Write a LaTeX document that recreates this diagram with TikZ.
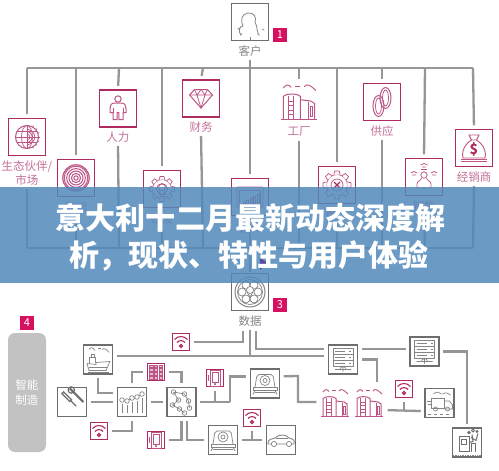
\documentclass[tikz,border=0pt]{standalone}
\usepackage{fontspec}
\setmainfont{Noto Sans CJK SC}
\definecolor{bpink}{HTML}{B02A62}
\definecolor{ipink}{HTML}{BC5586}
\definecolor{tpink}{HTML}{C4709A}
\definecolor{bgray}{HTML}{6E6E6E}
\definecolor{igray}{HTML}{858585}
\definecolor{cgray}{HTML}{969696}
\definecolor{bandc}{HTML}{5289BC}
\definecolor{badgec}{HTML}{D6105F}
\definecolor{tric}{HTML}{5A4CA0}
\tikzset{
 x=1pt,y=-1pt,
 pbox/.style={draw=bpink,line width=1.4pt,minimum size=37pt,inner sep=0pt,fill=white},
 gbox/.style={draw=bgray,line width=1.5pt,minimum size=29pt,inner sep=0pt,fill=white},
 wbox/.style={draw=bpink,line width=1.4pt,minimum size=17.5pt,inner sep=0pt,fill=white},
 bigg/.style={draw=bgray,line width=1.5pt,minimum size=37pt,inner sep=0pt,fill=white},
 freebox/.style={minimum size=30pt,inner sep=0pt},
 conn/.style={draw=cgray,line width=2.3pt},
 gap/.style={shorten >=3.5pt,shorten <=3.5pt},
 gapb/.style={shorten >=3.5pt},
 gapa/.style={shorten <=3.5pt},
 plab/.style={text=tpink,font=\fontsize{11.5}{14}\selectfont,inner sep=0pt,align=center},
 glab/.style={text=igray,font=\fontsize{11.5}{14}\selectfont,inner sep=0pt},
 badge/.style={fill=badgec,text=white,minimum size=14pt,inner sep=0pt,font=\fontsize{11}{12}\selectfont},
 ttl/.style={text=white,font=\fontsize{30}{32}\selectfont\bfseries,inner sep=0pt},
 ip/.style={draw=ipink,line width=.75pt},
 ig/.style={draw=igray,line width=.7pt},
 pics/wifi/.style={code={
  \draw[draw=bpink,line width=1.1pt] (-6.5,-2.5) .. controls (-3,-6.5) and (3,-6.5) .. (6.5,-2.5);
  \draw[draw=bpink,line width=1.1pt] (-4,.5) .. controls (-2,-2) and (2,-2) .. (4,.5);
  \draw[draw=bpink,line width=1.1pt] (0,4) circle[radius=1.5];}},
 pics/gridic/.style={code={
  \foreach \i in {-4.6,0,4.6}{\foreach \j in {-5.8,-2,2,5.8}{\draw[ip,fill=ipink!40] (\i-1.7,\j-1.3) rectangle (\i+1.7,\j+1.3);}}}},
 pics/tablet/.style={code={
  \draw[ip] (-5,-8) rectangle (5,8);\draw[ip] (-3,-5.5) rectangle (3,4.5);\draw[ip] (0,6.2) circle[radius=.7];\draw[ip] (-6.5,-3)--(-6.5,3);}},
 pics/globe/.style={code={
  \draw[ip,line width=1pt] (0,0) circle[radius=11.5];
  \draw[ip] (0,0) ellipse[x radius=5.5,y radius=11.5];
  \draw[ip] (-11.5,0)--(11.5,0) (0,-11.5)--(0,11.5) (-10,-5.5)--(10,-5.5) (-10,5.5)--(10,5.5);
  \foreach \r in {3,5.5,8}{\draw[ip] (0,-\r) .. controls (\r*1.3,-\r*.7) and (\r*1.3,\r*.7) .. (0,\r);}
  \foreach \a in {-60,-40,...,60}{\draw[ip,rotate=\a] (11.5,0)--(13,0);}}},
 pics/target/.style={code={
  \foreach \r in {2.2,4.6,7,9.4,11.8}{\draw[draw=ipink,line width=1pt] (0,0) circle[radius=\r];}
  \draw[draw=ipink,line width=1.2pt] (0,0) circle[radius=13.2];}},
 pics/person/.style={code={
  \draw[ip,line width=1pt] (0,-9.5) circle[radius=3.2];
  \draw[ip,line width=1pt] (-3,-5.5) -- (3,-5.5) .. controls (7,-5.5) and (8,-3) .. (8,0) -- (8,4) -- (5,4) -- (5,11) -- (.8,11) -- (.8,4) -- (-.8,4) -- (-.8,11) -- (-5,11) -- (-5,4) -- (-8,4) -- (-8,0) .. controls (-8,-3) and (-7,-5.5) .. (-3,-5.5);
  \draw[ip] (-5,-1)--(-5,4) (5,-1)--(5,4);}},
 pics/diamond/.style={code={
  \draw[ip,line width=1pt] (-11.5,-3.5) -- (-6.5,-9) -- (6.5,-9) -- (11.5,-3.5) -- (0,9.5) -- cycle;
  \draw[ip] (-11.5,-3.5) -- (11.5,-3.5) (-6.5,-9) -- (-4,-3.5) -- (0,-9) -- (4,-3.5) -- (6.5,-9) (-4,-3.5) -- (0,9.5) -- (4,-3.5);}},
 pics/gear/.style={code={
  \draw[ip] (0,0) circle[radius=9.5];
  \foreach \a in {0,45,...,315}{\draw[ip,rotate=\a,fill=white] (-2.6,-9.4) -- (-2,-12.5) -- (2,-12.5) -- (2.6,-9.4);}
  \draw[ip] (0,0) circle[radius=5.5];}},
 pics/bulb/.style={code={
  \draw[ip] (-3.5,5) -- (3.5,5) (-2.5,7.5) -- (2.5,7.5);\draw[ip] (0,-1.5) circle[radius=3.5];
  \draw[ip] (-3,1) -- (-2.2,5) (3,1) -- (2.2,5);}},
 pics/screen/.style={code={
  \draw[ip,rounded corners=1pt] (-13,-10) rectangle (13,10);
  \draw[ip] (-10.5,-7) rectangle (10.5,8);
  \foreach \h/\x in {2/-6,4/-2.5,6/1,8/4.5,10/8}{\draw[ip] (\x-1,7)rectangle (\x+1,7-\h);}}},
 pics/factory/.style={code={
  \draw[ip] (-14,14) -- (14,14);
  \draw[ip,line width=1pt] (-12,14) -- (-12,-3.5) .. controls (-10,-6) and (-1,-6) .. (1,-3.5) -- (1,14);
  \draw[ip,line width=1pt] (1,-1) -- (9,0) -- (12,2) -- (12,14);
  \draw[ip,line width=1pt] (7,1) -- (7,14);
  \draw[ip] (-8.5,-4)--(-8.5,14) (-4,-4)--(-4,14);
  \foreach \y in {0,3.5,7,10.5}{\draw[ip] (-8.5,\y)--(-4,\y);}
  \draw[ip] (8.5,4) rectangle (10.5,12);
  \draw[ip,line width=.9pt] (-12,-10) .. controls (-10,-13) and (-8,-13) .. (-6,-10.5);
  \draw[ip,line width=.9pt] (-3,-11.5) -- (1,-11.5);
  \draw[ip,line width=.9pt] (4,-11) .. controls (6,-14) and (9,-12) .. (13,-8);}},
 pics/tools/.style={code={
  \draw[draw=bgray,line width=1.3pt,rotate=45] (-1.2,-13) rectangle (1.2,-2);
  \draw[draw=bgray,line width=1.3pt,rotate=45] (0,-2) -- (0,6);
  \draw[draw=bgray,line width=2.2pt,rotate=45] (8,-11)--(8,8);
  \draw[draw=bgray,line width=1.2pt,rotate=45] (8,-9) circle[radius=3.2];}},
 pics/chartic/.style={code={
  \foreach \x/\y in {-10/-2,-5/-1,0/-4,5/-5,10/-8}{\draw[ig] (\x,\y) circle[radius=2.3];\draw[ig] (\x,\y+4)--(\x,11);}
  \draw[ig] (-8,-2)--(-7,-1) (-3,-2)--(-2,-3.5) (2,-4)--(3,-4.5) (7,-6)--(8,-7);}},
 pics/network/.style={code={
  \foreach \x/\y in {-8/-10,3/-8,-3/-2,7/-1,-9/3,-2/7,8/6,3/11}{\draw[ig] (\x,\y) circle[radius=2.3];}
  \draw[ig] (-8,-10)--(3,-8)--(7,-1)--(8,6) (-3,-2)--(-9,3)--(-2,7)--(3,11) (-8,-10)--(-3,-2);}},
 pics/printer/.style={code={
  \draw[ig,rounded corners=2pt] (-10,4) -- (-8,-9) -- (8,-9) -- (10,4);
  \draw[ig] (0,-3) circle[radius=5];\draw[ig] (0,-3) circle[radius=2];
  \draw[ig] (-12,4) rectangle (12,7);\draw[ig] (-10,7) -- (-12,11) (10,7) -- (12,11);\draw[ig] (-10,9) -- (10,9);}},
 pics/server/.style={code={
  \foreach \y in {-11,-5,1}{\draw[ig] (-10,\y) rectangle (10,\y+5.5);\draw[ig] (6,\y+2.7)--(8,\y+2.7);\draw[ig] (-8,\y+2.7)--(2,\y+2.7);}
  \draw[ig] (0,6.5)--(0,12) (-8,10)--(8,10) (-3,9)--(0,6.5)--(3,9);}},
 pics/ship/.style={code={
  \draw[ig] (-11,4) -- (-9,11) -- (8,11) -- (12,2) -- (-2,3) -- (-2,5) -- (-11,4);
  \draw[ig] (-9,4) -- (-9,-2) -- (-3,-2) -- (-3,3) (-7,-2)--(-7,-5)--(-4,-5)--(-4,-2);
  \draw[ig] (-9,8)--(9,8) (-10,12.5)--(11,12.5);
  \draw[ig] (-9,-10) .. controls (-7,-13) and (-5,-12) .. (-3,-9) (0,-11)--(3,-11) (4,-10) .. controls (6,-12) and (9,-10) .. (11,-7);}},
 pics/truck/.style={code={
  \draw[ig] (-8,-5) rectangle (5,5);\draw[ig] (5,-2) -- (10,-2) -- (13,2) -- (13,6) -- (5,6);
  \draw[ig] (-4,6) circle[radius=2];\draw[ig] (8,6) circle[radius=2];
  \draw[ig] (-13,-2)--(-9,-2) (-12,1)--(-9,1);
  \draw[ig,dashed] (-12,11)--(12,11);
  \draw[ig] (-6,-9) .. controls (-3,-12) and (0,-11) .. (2,-9) (3,-9) .. controls (6,-11) and (9,-10) .. (11,-8);}},
 pics/car/.style={code={
  \draw[ig,line width=.9pt] (-13,3) .. controls (-13,-1) and (-9,-1) .. (-6,-2) .. controls (-2,-6) and (5,-6) .. (8,-2) .. controls (12,-1) and (14,0) .. (13,4) -- (-13,4) -- cycle;
  \draw[ig,fill=white] (-7,4) circle[radius=2.6];\draw[ig,fill=white] (8,4) circle[radius=2.6];
  \draw[ig] (-5,-2)--(7,-2);}},
 pics/pump/.style={code={
  \draw[draw=bgray,line width=1pt] (-8,-6) rectangle (2,9);
  \draw[draw=bgray,line width=1pt] (-5.5,-3.5) rectangle (-.5,2);
  \draw[draw=bgray,line width=1pt] (2,0) -- (6,-1) -- (5,-8);
  \draw[draw=bgray,line width=1pt] (4,-5) -- (9,-2) -- (11,-9);
  \draw[draw=bgray,line width=1pt] (4,9) -- (4,1) -- (8,1) -- (8,9);
  \draw[draw=bgray,line width=1pt] (2,-10) circle[radius=1.2] (6,-12) circle[radius=1.5] (10,-11) circle[radius=1];
  \draw[ig,densely dotted] (-14,13)--(14,13);}},
 pics/chain/.style={code={
  \draw[ip,line width=1pt] (3.5,-4) ellipse[x radius=5.5,y radius=10.5];
  \draw[ip] (3.5,-4) ellipse[x radius=3,y radius=8];
  \draw[ip,line width=1pt] (-3.5,4) ellipse[x radius=5.5,y radius=10.5];
  \draw[ip] (-3.5,4) ellipse[x radius=3,y radius=8];}},
 pics/gearx/.style={code={
  \draw[ip] (0,0) circle[radius=10.5];
  \foreach \a in {0,45,...,315}{\draw[ip,rotate=\a,fill=white] (-3,-10.4) -- (-2.2,-14) -- (2.2,-14) -- (3,-10.4);}
  \draw[ip] (0,0) circle[radius=6];
  \draw[draw=bpink,line width=1.2pt] (-3,-3)--(3,3) (3,-3)--(-3,3);}},
 pics/netman/.style={code={
  \draw[ip] (0,-2) circle[radius=3.2];
  \draw[ip] (-7,11) -- (-7,7) .. controls (-7,4) and (-3,4) .. (-2.5,1.5) (2.5,1.5) .. controls (3,4) and (7,4) .. (7,7) -- (7,11) -- (-7,11);
  \draw[ip] (-3.5,-12) .. controls (-1,-14) and (1,-14) .. (3.5,-12) (-2,-10)--(2,-10) (-3,-7.5)--(3,-7.5);
  \draw[ip] (-13,-4) .. controls (-11,-6) and (-9,-6) .. (-7,-4) (-12,-2)--(-8,-2);
  \draw[ip] (13,-4) .. controls (11,-6) and (9,-6) .. (7,-4) (12,-2)--(8,-2);}},
 pics/bag/.style={code={
  \draw[ip,line width=.9pt] (-5,-13) -- (5,-13) -- (2.5,-8) -- (-2.5,-8) -- cycle;
  \draw[ip,line width=.9pt] (-2.5,-8) .. controls (-12,-2) and (-12,7) .. (-11,10) -- (11,10) .. controls (12,7) and (12,-2) .. (2.5,-8);
  \draw[ip] (-13,11) -- (13,11) (-13,13) -- (13,13);
  \node[text=bpink,font=\fontsize{14}{14}\selectfont\bfseries,inner sep=0pt] at (0,1) {\$};}},
 pics/head/.style={code={
  \draw[ig,line width=.8pt] (-9,13) .. controls (-12,10) and (-11,4) .. (-7,4) .. controls (-10,-3) and (-8,-8) .. (-2,-9) .. controls (4,-10) and (7,-4) .. (5,0) .. controls (7,4) and (7,8) .. (8,11) -- (8,13);
  \foreach \a/\r in {-150/12,-125/14,-90/15,-55/14,-30/14}{\draw[ig,rotate=\a] (\r,0) -- (\r+2.5,0);}}},
 pics/dataic/.style={code={
  \draw[ig,line width=1pt] (0,0) circle[radius=15];\draw[ig] (0,0) circle[radius=12.5];
  \foreach \a in {0,60,...,300}{\draw[ig,rotate=\a] (8,0) circle[radius=4];}
  \draw[ig,fill=white] (0,-2) circle[radius=3.5];\draw[ig] (-3,0) -- (0,5) -- (3,0);}}
}
\begin{document}
\begin{tikzpicture}
\useasboundingbox (0,0) rectangle (499,471);
\fill[white] (0,0) rectangle (499,471);

% upper part
\node[bigg] (client) at (250,22) {};
\pic at (client.center) {head};
\node[glab] (lclient) at (250,51) {客户};
\node[badge] (b1) at (280,35) {1};

\coordinate (tl) at (27,68);
\coordinate (tr) at (473,68);
\coordinate (bl) at (27,248);
\coordinate (br) at (473,248);

\node[pbox] (eco) at (27,137) {}; \pic at (eco.center) {globe};
\node[plab] (leco) at (27,173) {生态伙伴/\\市场};
\node[pbox] (mkt) at (76,178) {}; \pic at (mkt.center) {target};
\node[plab] (lmkt) at (76,207) {物流};
\node[pbox] (hr) at (118,108.5) {}; \pic at (hr.center) {person};
\node[plab] (lhr) at (118,137) {人力};
\node[pbox] (rd) at (162,189) {}; \pic at (rd.center) {gear}; \pic at (rd.center) {bulb};
\node[plab] (lrd) at (162,219) {研发};
\node[pbox] (fin) at (201,98.5) {}; \pic at (fin.center) {diamond};
\node[plab] (lfin) at (201,127) {财务};
\node[pbox] (dash) at (250,197) {}; \pic at (dash.center) {screen};
\node[plab] (ldash) at (250,228) {设计};
\node[freebox,minimum size=37pt] (fac) at (299,101) {}; \pic[scale=1.3] at (fac.center) {factory};
\node[plab] (lfac) at (299,132) {工厂};
\node[pbox] (svc) at (337,185) {}; \pic at (svc.center) {gearx};
\node[plab] (lsvc) at (337,214) {维修};
\node[pbox] (sup) at (382,102) {}; \pic at (sup.center) {chain};
\node[plab] (lsup) at (382,131) {供应};
\node[pbox] (mk2) at (424,177) {}; \pic at (mk2.center) {netman};
\node[plab] (lmk2) at (424,206) {销售};
\node[pbox] (deal) at (474,148) {}; \pic at (deal.center) {bag};
\node[plab] (ldeal) at (474,177) {经销商};

\draw[conn] (tl) -- (tr);
\draw[conn] (bl) -- (br);
\draw[conn,gapb] (tl) -- (eco.north);
\draw[conn] (leco.south) ++(0,3) -- (bl);
\draw[conn,gapb] (76,68) -- (mkt.north);
\draw[conn,gapa] (lmkt.south) -- (76,248);
\draw[conn,gapb] (119,68) -- (hr.north);
\draw[conn,gapa] (lhr.south) -- (119,248);
\draw[conn,gapb] (162,68) -- (rd.north);
\draw[conn,gapa] (lrd.south) -- (162,248);
\draw[conn,gapb] (203,68) -- (fin.north);
\draw[conn,gapa] (lfin.south) -- (203,248);
\draw[conn,gap] (lclient.south) -- (dash.north);
\draw[conn,gapb] (ldash.south) -- (250,248);
\draw[conn] (250,248) -- (250,272);
\draw[conn,gapb] (299,68) -- (fac.north);
\draw[conn,gapa] (lfac.south) -- (299,248);
\draw[conn,gapb] (337,68) -- (svc.north);
\draw[conn,gapa] (lsvc.south) -- (337,248);
\draw[conn,gapb] (382,68) -- (sup.north);
\draw[conn,gapa] (lsup.south) -- (382,248);
\draw[conn,gapb] (425,68) -- (mk2.north);
\draw[conn,gapa] (lmk2.south) -- (425,248);
\draw[conn,gapb] (tr) -- (deal.north);
\draw[conn,gapa] (ldeal.south) -- (br);

% data
\node[bigg] (data) at (250,292) {}; \pic at (data.center) {dataic};
\node[badge] (b3) at (280,305) {3};
\node[glab] (ldata) at (250,321) {数据};

% lower part
\node[badge] (b4) at (27,323) {4};
\node[fill=black!24,rounded corners=7pt,minimum width=38pt,minimum height=119pt,inner sep=0pt,text=white,align=center,font=\fontsize{11.5}{15}\selectfont] (smart) at (27,392.5) {智能\\制造};

\node[wbox] (w1) at (181,342) {}; \pic at (w1.center) {wifi};
\node[gbox] (ship) at (98,359.5) {}; \pic at (ship.center) {ship};
\node[gbox] (srv1) at (343,359.5) {}; \pic at (srv1.center) {server};
\node[gbox] (srv2) at (424.5,351.5) {}; \pic at (srv2.center) {server};
\node[wbox] (grid) at (156,372) {}; \pic at (grid.center) {gridic};
\node[gbox] (tools) at (72,402) {}; \pic at (tools.center) {tools};
\node[gbox] (chart) at (132,402) {}; \pic at (chart.center) {chartic};
\node[gbox] (net) at (181.5,402) {}; \pic at (net.center) {network};
\node[wbox] (tab1) at (215,378) {}; \pic at (tab1.center) {tablet};
\node[gbox] (cam2) at (265,383.5) {}; \pic at (cam2.center) {printer};
\node[wbox] (w2) at (99,431) {}; \pic at (w2.center) {wifi};
\node[wbox] (tab2) at (156,440) {}; \pic at (tab2.center) {tablet};
\node[gbox] (cam1) at (223,440) {}; \pic at (cam1.center) {printer};
\node[wbox] (w4) at (252,418) {}; \pic at (w4.center) {wifi};
\node[gbox] (car) at (281,440) {}; \pic at (car.center) {car};
\node[freebox] (f1) at (335,402) {}; \pic at (f1.center) {factory};
\node[freebox] (f2) at (369,402) {}; \pic at (f2.center) {factory};
\node[wbox] (w3) at (404,389) {}; \pic at (w3.center) {wifi};
\node[gbox] (truck) at (439.5,403) {}; \pic at (truck.center) {truck};
\node[gbox] (pump) at (467,442.5) {}; \pic at (pump.center) {pump};

\coordinate (dmain) at (250,356);
\coordinate (dl) at (243,331);
\coordinate (dr) at (256,331);
\coordinate (ws1) at (181,356);
\draw[conn,gapa] (ldata.south) -- (dmain);
\draw[conn,gapb] (dl) |- (w1.east);
\draw[conn,gapb] (dr) |- (srv1.145);
\draw[conn,gap] (ship.13) -- (srv1.167);
\draw[conn,gapa] (w1.south) -- (ws1);
\draw[conn,gap] (srv1.35) -- (srv1.35 -| srv2.west);
\coordinate (f2t) at (377,382);
\draw[conn,gapa] (srv1.east) -| (f2t);
\draw[conn,gap] (srv2.east) -| (pump.north);
\draw[conn,gap] (ship.south) |- (chart.150);
\draw[conn,gap] (tools.east) -- (chart.west);
\draw[conn,gap] (chart.east) -- (net.west);
\draw[conn,gap] (chart.north) |- (grid.west);
\draw[conn,gap] (grid.east) -| (net.north);
\draw[conn,gap] (w2.east) -| (chart.south);
\draw[conn,gap] (tab2.east) -| (net.south);
\draw[conn,gap] (net.290) |- (cam1.west);
\coordinate (tj) at (230,402);
\coordinate (ts) at (215,402);
\draw[conn,gapa] (net.east) -- (tj);
\draw[conn,gapb] (tj) |- (cam2.155);
\draw[conn,gapa] (tab1.south) -- (ts);
\coordinate (j1) at (298,376);
\draw[conn,gap] (cam2.25) -- (j1) |- (f1.west);
\draw[conn,gap] (f2.332) -- (truck.208);
\coordinate (ws3) at (404,410.5);
\draw[conn,gapa] (w3.south) -- (ws3);
\draw[conn,gap] (cam1.east) -- (car.west);
\coordinate (ws4) at (252,440);
\draw[conn,gapa] (w4.south) -- (ws4);

% band
\fill[bandc,fill opacity=.85] (0,187) rectangle (499,283);
\fill[tric] (260,258) -- (268,263) -- (260,270) -- cycle;
\node[ttl] (t1) at (250.5,218) {意大利十二月最新动态深度解};
\node[ttl] (t2) at (249,256) {析，现状、特性与用户体验};
\end{tikzpicture}
\end{document}
